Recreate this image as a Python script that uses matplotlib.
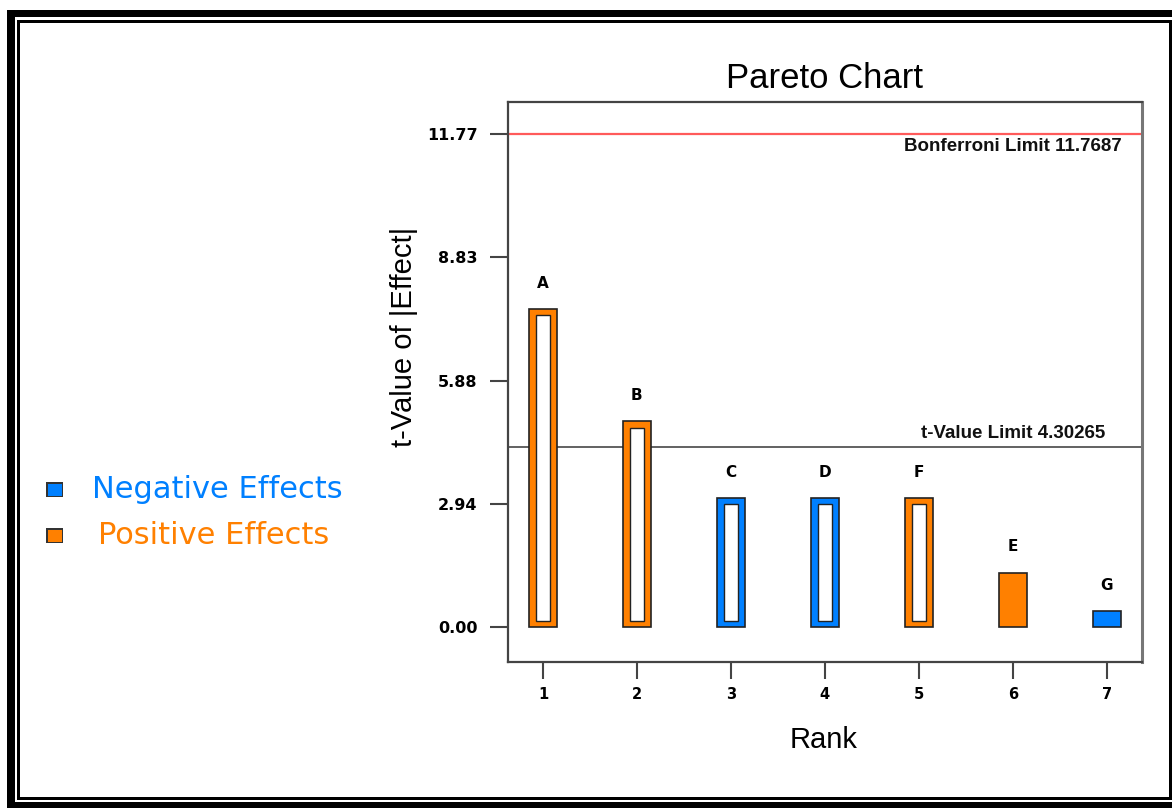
import matplotlib.pyplot as plt
from matplotlib.patches import Rectangle

# data
ranks = [1, 2, 3, 4, 5, 6, 7]
terms = ['A', 'B', 'C', 'D', 'F', 'E', 'G']
t_values = [7.59, 4.91, 3.08, 3.08, 3.08, 1.31, 0.40]
signs = ['+', '+', '-', '-', '+', '+', '-']
outlined = [True, True, True, True, True, False, False]
y_ticks = [0.00, 2.94, 5.88, 8.83, 11.77]
t_limit = 4.30265
bonf_limit = 11.7687

W, H = 1172, 808
orange = '#ff8000'
blue = '#0080ff'
font = 'Liberation Sans'

fig = plt.figure(figsize=(W / 100, H / 100), dpi=100)


def box(x0, y0, x1, y1, c):
    # rectangle given in image pixels (origin top-left)
    fig.add_artist(Rectangle((x0 / W, 1 - y1 / H), (x1 - x0) / W, (y1 - y0) / H,
                             transform=fig.transFigure, facecolor=c, lw=0, zorder=-10))


def ftext(x, y, s, **kw):
    fig.text(x / W, 1 - y / H, s, **kw)


# double frame around the picture
box(6.7, 10, 1190, 820, 'black')
box(15, 17.3, 1190, 802, 'white')
box(17.3, 20, 1171.7, 800, 'black')
box(20, 22.5, 1169.3, 797.3, 'white')

ax = fig.add_axes([508.3 / W, 1 - 661.7 / H, 633.4 / W, 560 / H])

colors = [orange if s == '+' else blue for s in signs]
ax.bar(ranks, t_values, width=0.30, color=colors, edgecolor='#222222', linewidth=1.2, zorder=3)
for r, v, o in zip(ranks, t_values, outlined):
    if o:
        ax.bar(r, v - 0.29, bottom=0.145, width=0.15, color='white',
               edgecolor='#222222', linewidth=1.0, zorder=4)
for r, v, t in zip(ranks, t_values, terms):
    ax.annotate(t, (r, v), xytext=(0, 18.4), textcoords='offset points',
                ha='center', va='center', fontsize=11, fontweight='bold', family='DejaVu Sans')

ax.axhline(bonf_limit, color='#ff5a5a', lw=1.6, zorder=2)
ax.axhline(t_limit, color='#555555', lw=1.3, zorder=2)
ax.annotate(f'Bonferroni Limit {bonf_limit:g}', (6, bonf_limit), xytext=(0, -9.5),
            textcoords='offset points', ha='center', va='center',
            fontsize=13.5, fontweight='bold', family=font, color='#111111')
ax.annotate(f't-Value Limit {t_limit:g}', (6, t_limit), xytext=(0, 9.5),
            textcoords='offset points', ha='center', va='center',
            fontsize=13.5, fontweight='bold', family=font, color='#111111')

ax.set_xlim(0.631, 7.372)
ax.set_ylim(-0.815, 12.53)
ax.set_xticks(ranks)
ax.set_xticklabels([str(r) for r in ranks], fontsize=10.5, fontweight='bold', family='DejaVu Sans')
ax.set_yticks(y_ticks)
ax.set_yticklabels([f'{v:.2f}' for v in y_ticks], fontsize=11.5, fontweight='bold', family='DejaVu Sans')
ax.tick_params(axis='y', length=13, width=1.5, color='#444444', pad=9)
ax.tick_params(axis='x', length=12, width=1.5, color='#444444', pad=6)
for side in ax.spines.values():
    side.set_color('#444444')
    side.set_linewidth(1.6)
ax.spines['right'].set_color('#777777')
ax.spines['right'].set_linewidth(2.2)

ax.set_title('Pareto Chart', fontsize=25, family=font, pad=10)
ftext(404, 337, 't-Value of |Effect|', rotation=90, ha='center', va='center',
      fontsize=21, family=font)
ftext(824, 740, 'Rank', ha='center', va='center', fontsize=21, family=font)

# legend drawn by hand at the left
box(46, 482, 63, 497, '#333333')
box(47.5, 483.5, 61.5, 495.5, blue)
box(46, 528, 63, 543, '#333333')
box(47.5, 529.5, 61.5, 541.5, orange)
ftext(92, 489, 'Negative Effects', color=blue, fontsize=22,
      family='DejaVu Sans', ha='left', va='center')
ftext(98, 535, 'Positive Effects', color=orange, fontsize=22,
      family='DejaVu Sans', ha='left', va='center')

fig.savefig('out.png', dpi=100)
